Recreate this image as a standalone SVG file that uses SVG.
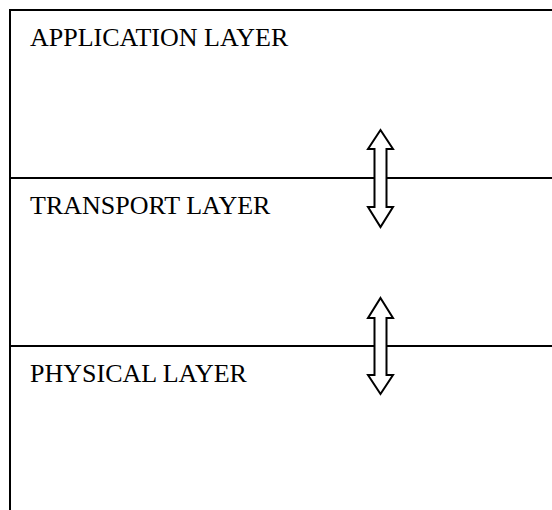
<svg xmlns="http://www.w3.org/2000/svg" width="552" height="510" viewBox="0 0 552 510">
<style>
.frame{fill:none;stroke:#000;stroke-width:2}
.div{stroke:#000;stroke-width:2}
.lbl{font-family:"Liberation Serif","Times New Roman",serif;font-size:26px;fill:#000}
.arr{fill:#fff;stroke:#000;stroke-width:2;stroke-linejoin:miter}
</style>
<rect width="552" height="510" fill="#fff"/>
<g id="application-layer">
<rect class="frame" x="10" y="10" width="560" height="520"/>
<text class="lbl" x="30" y="46">APPLICATION LAYER</text>
</g>
<g id="transport-layer">
<line class="div" x1="10" y1="178" x2="552" y2="178"/>
<text class="lbl" x="30" y="214">TRANSPORT LAYER</text>
</g>
<g id="physical-layer">
<line class="div" x1="10" y1="346" x2="552" y2="346"/>
<text class="lbl" x="30" y="382">PHYSICAL LAYER</text>
</g>
<g id="connectors">
<polygon class="arr" points="380.5,130 393,149 386.5,149 386.5,207 393,207 380.5,227 368,207 374.5,207 374.5,149 368,149"/>
<polygon class="arr" points="380.5,298 393,318 386.5,318 386.5,375 393,375 380.5,394 368,375 374.5,375 374.5,318 368,318"/>
</g>
</svg>
